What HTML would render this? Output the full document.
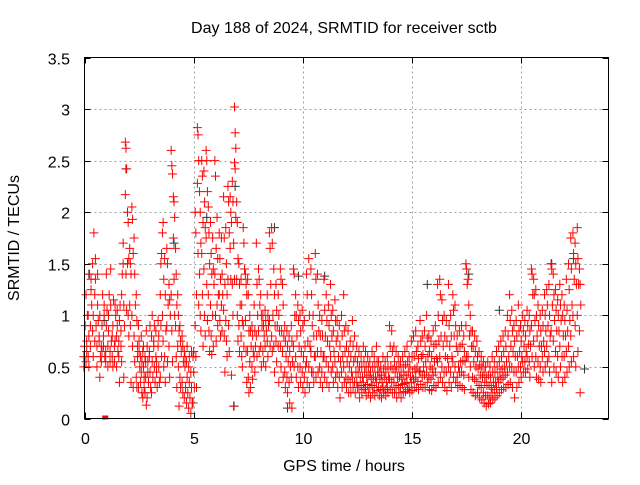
<!DOCTYPE html>
<html><head><meta charset="utf-8"><style>
html,body{margin:0;padding:0;background:#fff}
svg text{font-family:"Liberation Sans",sans-serif;font-size:16px;fill:#000}
</style></head><body>
<svg id="chart" width="640" height="480" viewBox="0 0 640 480" xmlns="http://www.w3.org/2000/svg">
<rect width="640" height="480" fill="#fff"/>
<g id="grid"></g>
<g id="ticks"></g>
<g id="marksBlack"></g>
<g id="marks"></g>
<rect x="84.5" y="57.5" width="524" height="361" fill="none" stroke="#000" stroke-width="1"/>
<text x="344" y="33" text-anchor="middle">Day 188 of 2024, SRMTID for receiver sctb</text>
<text x="344" y="471" text-anchor="middle">GPS time / hours</text>
<text x="19" y="238" text-anchor="middle" transform="rotate(-90 19 238)">SRMTID / TECUs</text>
</svg>
<script>
const xTicks=[0,5,10,15,20];
const yTicks=[0,0.5,1,1.5,2,2.5,3,3.5];
const yTickLabels=["0","0.5","1","1.5","2","2.5","3","3.5"];
const binStart=0, binStep=0.1;
const srmtid=[
[0.5,0.7,0.9,0.6],[0.55,0.75,1.0,1.2,0.65],[0.6,0.8,1.4,1.0,0.5],[0.9,1.25,1.1,0.7,1.35],[0.85,1.0,1.8,1.5,0.6],[1.2,1.55,0.9,0.75,1.35],[0.7,1.1,0.95,0.5,1.4],[0.75,1.0,0.6,0.8,0.4],[0.7,0.9,1.2,0.55,0.65],[0.8,1.0,0.6,0.7,1.1],
[0.65,0.9,1.05,0.55,1.4],[0.7,0.85,1.2,0.5,1.0],[0.65,1.1,0.75,0.55,1.45],[0.6,0.9,1.15,0.8,0.5],[0.7,1.1,1.0,0.55,0.75],[0.8,1.05,0.65,0.5,0.9],[0.6,0.95,1.1,0.75,0.35],[0.85,1.2,1.4,0.7,0.55],[1.7,1.1,0.9,1.5,0.4],[2.68,2.62,2.42,2.17,1.4,1.05],
[2.0,1.9,1.55,1.5,1.0,0.8],[1.65,1.5,1.4,1.1,0.9,0.35],[2.05,1.93,1.6,1.0,0.7,0.3],[1.75,1.4,1.1,0.8,0.55],[1.2,0.95,0.7,0.4,0.3,0.6],[0.9,0.65,0.5,0.3,0.75],[0.6,0.45,0.25,0.35,0.8,0.55],[0.65,0.5,0.3,0.2,0.7,0.4],[0.6,0.4,0.13,0.25,0.55,0.85],[0.7,0.45,0.35,0.2,0.55],
[0.65,0.45,0.3,0.6,0.9],[0.8,0.55,0.4,0.25,1.0],[0.75,0.5,0.35,0.7,0.9],[0.6,0.45,0.3,0.85,0.55],[0.7,0.5,0.35,0.95,0.8],[1.2,0.9,0.6,0.4,1.5,1.6],[1.8,1.9,1.35,1.0,0.75,0.5],[1.55,1.2,0.85,0.6,0.35],[1.65,1.5,1.1,0.9,0.55],[1.3,1.15,1.0,0.7,0.4],
[2.6,2.45,2.37,1.2,0.85,0.55],[2.15,2.1,1.95,1.75,1.35,1.0],[1.65,1.4,1.1,0.9,0.6,0.3],[1.2,1.0,0.85,0.7,0.5,0.12],[0.9,0.75,0.65,0.4,0.3],[0.8,0.7,0.55,0.35,0.25],[0.65,0.5,0.3,0.2,0.6],[0.55,0.4,0.25,0.15,0.7],[0.5,0.35,0.2,0.1,0.6],[0.45,0.3,0.15,0.05,0.65],
[0.6,0.45,0.3,0.15,0.65],[2.0,1.8,1.2,0.9,0.6,0.3],[2.82,2.75,2.5,2.28,1.6,1.1],[2.2,2.0,1.7,1.4,1.0,0.85],[2.5,2.35,1.9,1.6,1.2,0.7],[2.4,2.1,1.85,1.45,1.0,0.8],[2.6,2.5,2.2,1.75,1.3,0.95],[2.05,1.8,1.5,1.2,0.85,0.65],[1.9,1.6,1.4,1.1,0.8,0.62],[1.75,1.45,1.3,1.0,0.7],
[2.5,2.35,1.65,1.4,1.0,0.75],[1.95,1.55,1.2,1.1,0.9],[1.8,1.55,1.35,1.2,0.95,0.8],[1.75,1.4,1.2,1.1,0.85],[2.15,1.75,1.3,1.05,0.8,0.45],[1.85,1.5,1.2,0.95,0.75,0.6],[2.25,2.1,1.8,1.35,0.9,0.65],[2.15,2.0,1.9,1.65,1.35,0.42],[2.3,2.1,1.7,1.3,1.0,0.12],[3.02,2.77,2.62,2.48,2.42,1.95,1.35],
[2.1,1.9,1.55,1.35,1.0,0.75],[1.5,1.3,1.1,0.9,0.65],[1.35,1.1,0.95,0.8,0.6,0.5],[1.85,1.7,1.45,0.9,0.7],[1.4,1.3,1.2,0.95,0.65,0.35],[1.35,1.2,0.85,0.65,0.4,0.25],[1.0,0.85,0.7,0.55,0.3],[0.9,0.8,0.65,0.5,0.38],[1.1,0.85,0.7,0.6,0.45],[1.7,1.3,1.0,0.8,0.6],
[1.45,1.35,1.1,0.85,0.65],[1.2,1.0,0.9,0.7,0.5],[1.0,0.9,0.8,0.65,0.55],[1.05,0.95,0.85,0.7,0.5],[1.2,1.0,0.9,0.75,0.6],[1.8,1.65,1.3,0.95,0.7],[1.85,1.7,1.0,0.8,0.65],[1.45,1.2,0.9,0.7,0.45],[1.3,1.05,0.9,0.75,0.55],[1.2,1.0,0.85,0.7,0.35],
[1.45,1.35,0.85,0.7,0.5],[1.3,1.1,0.8,0.65,0.4],[0.9,0.75,0.6,0.45,0.3],[0.85,0.7,0.55,0.4,0.25],[0.8,0.65,0.5,0.35,0.15],[0.9,0.75,0.55,0.4,0.1],[1.45,1.4,1.0,0.7,0.5],[1.2,1.0,0.8,0.6,0.4],[1.1,0.95,0.7,0.5,0.3],[1.0,0.85,0.65,0.5,0.35],
[1.05,0.9,0.6,0.45,0.3],[0.95,0.7,0.5,0.4,0.25],[1.4,1.2,0.75,0.55,0.35],[1.55,1.0,0.7,0.5,0.3],[1.45,1.2,0.9,0.65,0.45],[1.0,0.8,0.6,0.45,0.35],[1.6,1.35,0.8,0.6,0.4],[1.4,1.1,0.85,0.65,0.45],[1.0,0.8,0.65,0.5,0.35],[0.95,0.8,0.6,0.45,0.3],
[1.35,1.05,0.8,0.6,0.4],[1.2,0.95,0.75,0.55,0.35],[1.1,0.9,0.7,0.5,0.3],[1.3,1.0,0.8,0.6,0.45],[1.05,0.85,0.65,0.5,0.35],[1.15,0.95,0.75,0.55,0.4],[0.95,0.8,0.6,0.45,0.3],[0.9,0.7,0.55,0.4,0.2],[1.0,0.8,0.6,0.45,0.3],[1.2,0.85,0.65,0.5,0.35],
[0.9,0.7,0.55,0.4,0.3],[0.85,0.65,0.5,0.38,0.25],[0.75,0.6,0.45,0.35,0.25],[0.95,0.7,0.55,0.4,0.3],[0.8,0.6,0.45,0.35,0.25],[0.7,0.55,0.45,0.35,0.3],[0.65,0.5,0.4,0.3,0.2],[0.6,0.5,0.4,0.32,0.25],[0.7,0.55,0.45,0.35,0.28],[0.65,0.5,0.4,0.3,0.22],
[0.6,0.5,0.42,0.33,0.25],[0.55,0.45,0.38,0.3,0.2],[0.65,0.5,0.4,0.32,0.25],[0.6,0.5,0.4,0.3,0.22],[0.7,0.55,0.45,0.35,0.27],[0.55,0.45,0.38,0.3,0.22],[0.5,0.42,0.35,0.28,0.2],[0.6,0.48,0.4,0.3,0.25],[0.55,0.45,0.35,0.28,0.22],[0.6,0.5,0.4,0.3,0.25],
[0.9,0.7,0.5,0.38,0.28],[0.85,0.65,0.48,0.35,0.25],[0.7,0.55,0.45,0.35,0.25],[0.65,0.5,0.4,0.3,0.2],[0.6,0.5,0.4,0.32,0.25],[0.55,0.45,0.38,0.3,0.2],[0.6,0.5,0.42,0.33,0.25],[0.65,0.52,0.42,0.34,0.26],[0.7,0.55,0.45,0.35,0.28],[0.6,0.5,0.4,0.3,0.25],
[0.75,0.6,0.45,0.35,0.27],[0.8,0.6,0.48,0.38,0.3],[0.85,0.65,0.5,0.4,0.3],[0.7,0.58,0.46,0.36,0.28],[0.95,0.75,0.6,0.45,0.33],[0.8,0.62,0.5,0.4,0.3],[0.85,0.7,0.55,0.42,0.3],[1.0,0.78,0.6,0.45,0.35],[0.8,0.65,0.5,0.4,0.28],[0.75,0.6,0.48,0.38,0.27],
[0.85,0.7,0.55,0.42,0.32],[0.9,0.72,0.58,0.45,0.3],[1.3,1.0,0.75,0.55,0.35],[1.35,1.2,0.8,0.6,0.4],[1.15,0.95,0.7,0.5,0.35],[1.0,0.8,0.6,0.45,0.3],[0.95,0.75,0.58,0.45,0.27],[1.3,0.9,0.7,0.5,0.35],[1.0,0.8,0.6,0.45,0.3],[1.2,1.05,0.8,0.55,0.4],
[1.1,0.9,0.7,0.5,0.35],[0.8,0.65,0.5,0.4,0.3],[0.85,0.7,0.55,0.45,0.32],[0.9,0.72,0.56,0.45,0.3],[0.8,0.65,0.55,0.42,0.28],[1.5,1.45,1.3,0.9,0.6],[1.35,1.1,0.8,0.6,0.4],[1.0,0.85,0.7,0.5,0.28],[0.85,0.7,0.55,0.4,0.25],[0.8,0.65,0.5,0.38,0.22],
[0.75,0.6,0.48,0.36,0.25],[0.65,0.52,0.42,0.32,0.2],[0.6,0.5,0.4,0.3,0.18],[0.55,0.45,0.35,0.25,0.15],[0.5,0.4,0.32,0.22,0.12],[0.55,0.42,0.32,0.22,0.14],[0.5,0.4,0.3,0.2,0.15],[0.6,0.45,0.35,0.25,0.18],[0.55,0.45,0.35,0.28,0.2],[0.65,0.5,0.4,0.3,0.22],
[0.7,0.55,0.45,0.35,0.25],[0.75,0.6,0.48,0.38,0.28],[0.8,0.65,0.5,0.4,0.3],[0.85,0.7,0.55,0.42,0.3],[1.0,0.8,0.6,0.45,0.33],[1.2,0.95,0.7,0.5,0.35],[1.05,0.85,0.65,0.5,0.3],[0.9,0.75,0.6,0.45,0.2],[0.95,0.8,0.6,0.45,0.3],[1.1,0.85,0.65,0.5,0.35],
[0.9,0.75,0.6,0.5,0.4],[1.0,0.85,0.7,0.55,0.45],[0.95,0.8,0.65,0.55,0.45],[1.05,0.9,0.72,0.6,0.48],[1.0,0.85,0.7,0.55,0.4],[1.45,1.4,1.2,0.9,0.6],[1.35,1.2,0.95,0.75,0.5],[1.25,1.0,0.8,0.6,0.4],[1.1,0.9,0.7,0.55,0.38],[1.0,0.85,0.7,0.5,0.35],
[1.05,0.9,0.75,0.6,0.45],[1.2,1.0,0.85,0.65,0.5],[1.25,1.1,0.9,0.7,0.55],[1.3,1.0,0.8,0.6,0.45],[1.5,1.45,1.1,0.85,0.35],[1.4,1.2,0.95,0.75,0.5],[1.25,1.05,0.85,0.65,0.45],[1.15,1.0,0.85,0.6,0.4],[1.3,1.1,0.95,0.7,0.5],[1.2,1.0,0.8,0.6,0.35],
[1.1,0.95,0.8,0.6,0.4],[1.35,1.05,0.85,0.65,0.45],[1.5,1.25,0.95,0.7,0.5],[1.75,1.45,1.1,0.8,0.55],[1.8,1.6,1.35,1.0,0.6],[1.7,1.5,1.3,0.9,0.5],[1.85,1.55,1.3,1.0,0.65],[1.45,1.3,1.1,0.85,0.25]
];
const blackHours=[0.2,0.9,1.9,4.1,5.6,6.9,6.85,8.7,9.3,9.8,11.0,15.7,17.6,19.0,21.4,22.4,22.9];
const blackValues=[1.4,0.95,2.42,1.7,1.95,2.25,0.12,1.85,0.1,1.38,1.38,1.3,1.4,1.05,1.5,1.55,0.48];
const gapHours=[0.95];
const gapValues=[0.0];

const X0=84.5,X1=608.5,Y0=418.5,Y1=57.5,XMAX=24,YMAX=3.5;
const NS="http://www.w3.org/2000/svg";
function xs(v){return X0+(X1-X0)*v/XMAX;}
function ys(v){return Y0-(Y0-Y1)*v/YMAX;}
const grid=document.getElementById('grid'),ticks=document.getElementById('ticks');
function line(g,x1,y1,x2,y2,st,dash){const l=document.createElementNS(NS,'line');l.setAttribute('x1',x1);l.setAttribute('y1',y1);l.setAttribute('x2',x2);l.setAttribute('y2',y2);l.setAttribute('stroke',st);if(dash)l.setAttribute('stroke-dasharray',dash);g.appendChild(l);return l;}
function txt(g,x,y,s,anchor){const t=document.createElementNS(NS,'text');t.setAttribute('x',x);t.setAttribute('y',y);t.setAttribute('text-anchor',anchor);t.textContent=s;g.appendChild(t);return t;}
xTicks.forEach((v,i)=>{const x=Math.round(xs(v))+0.5;
 if(v>0){const gl=line(grid,x,Y0,x,Y1,'#a0a0a0','2,3');
 
 }
 line(ticks,x,Y0,x,Y0-6,'#000');line(ticks,x,Y1,x,Y1+6,'#000');
 const t=txt(ticks,x,444,String(v),'middle');
 
 });
yTicks.forEach((v,i)=>{const y=Math.round(ys(v))+0.5;
 if(v>0&&v<YMAX){const gl=line(grid,X0,y,X1,y,'#a0a0a0','2,3');
 
 }
 line(ticks,X0,y,X0+6,y,'#000');line(ticks,X1,y,X1-6,y,'#000');
 const t=txt(ticks,70,y+6,yTickLabels[i],'end');
 
 });
function plus(g,t,v,col){const x=xs(t),y=ys(v);const p=document.createElementNS(NS,'path');
 p.setAttribute('d','M'+(x-4.5)+' '+y+'h9M'+x+' '+(y-4.5)+'v9');p.setAttribute('stroke',col);p.setAttribute('fill','none');g.appendChild(p);return p;}
const gb=document.getElementById('marksBlack');
blackHours.forEach((t,i)=>{const p=plus(gb,t,blackValues[i],'#333');
 
 });
const g=document.getElementById('marks');
srmtid.forEach((vals,i)=>{const t=binStart+i*binStep;vals.forEach((v,j)=>{const tt=t+(j%3-1)*0.03;const p=plus(g,tt,v,'#ff0000');
 
 });});
gapHours.forEach((t,i)=>{const r=document.createElementNS(NS,'rect');r.setAttribute('x',xs(t)-3);r.setAttribute('y',ys(gapValues[i])-3);r.setAttribute('width',6);r.setAttribute('height',4);r.setAttribute('fill','#ff0000');
 
 
 g.appendChild(r);});
</script>
</body></html>
